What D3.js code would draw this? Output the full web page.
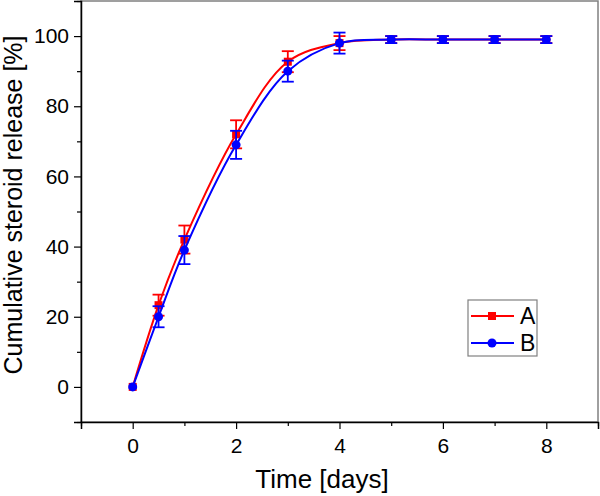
<!DOCTYPE html>
<html><head><meta charset="utf-8">
<script src="https://cdn.jsdelivr.net/npm/d3@7"></script>
<style>body{margin:0;background:#fff}svg{display:block}text{font-family:Arial,"Liberation Sans",sans-serif;fill:#000}</style>
</head><body>
<script>
const times = [0, 0.5, 1, 2, 3, 4, 5, 6, 7, 8];
const seriesA = [0, 23.3, 42, 72, 92.7, 98, 99, 99, 99, 99];
const errA    = [0, 3, 4, 4, 3, 2, 1, 1, 1, 1];
const seriesB = [0, 20, 39, 69, 90, 98, 99, 99, 99, 99];
const errB    = [0, 3, 4, 4, 3, 3, 1, 1, 1, 1];
const xTicks = [0, 2, 4, 6, 8];
const xMinor = [-1, 1, 3, 5, 7, 9];
const yTicks = [0, 20, 40, 60, 80, 100];
const yMinor = [-10, 10, 30, 50, 70, 90, 110];
const legendLabels = ["A", "B"];

const W = 600, H = 496;
const svg = d3.select("body").append("svg").attr("width", W).attr("height", H);
const x = d3.scaleLinear().domain([-1, 9]).range([81, 598]);
const y = d3.scaleLinear().domain([-10, 110]).range([422, 1]);

// frame
svg.append("rect").attr("x", 81).attr("y", 1).attr("width", 517).attr("height", 421)
  .attr("fill", "none").attr("stroke", "#808080").attr("stroke-width", 1.5);

// axes
svg.append("g").attr("transform", "translate(0,422)")
  .call(d3.axisBottom(x).tickValues(xTicks).tickSize(7).tickPadding(9).tickFormat(d3.format("d")));
svg.append("g").attr("transform", "translate(0,422)")
  .call(d3.axisBottom(x).tickValues(xMinor).tickSize(4).tickFormat(""))
  .call(g => g.select(".domain").remove());
svg.append("g").attr("transform", "translate(81,0)")
  .call(d3.axisLeft(y).tickValues(yTicks).tickSize(7).tickPadding(5).tickFormat(d3.format("d")));
svg.append("g").attr("transform", "translate(81,0)")
  .call(d3.axisLeft(y).tickValues(yMinor).tickSize(4).tickFormat(""))
  .call(g => g.select(".domain").remove());
svg.selectAll(".domain").attr("stroke", "#000").attr("stroke-width", 1.5);
svg.selectAll(".tick line").attr("stroke", "#000").attr("stroke-width", 1.2);
svg.selectAll(".tick text").style("font-size", "21px").attr("font-family", "Arial, 'Liberation Sans', sans-serif");

// titles
svg.append("text").attr("x", 322).attr("y", 488).attr("text-anchor", "middle")
  .style("font-size", "26px").text("Time [days]");
svg.append("text").attr("transform", "translate(22,205) rotate(-90)").attr("text-anchor", "middle")
  .style("font-size", "25px").text("Cumulative steroid release [%]");

function drawSeries(vals, errs, color, shape) {
  const data = times.map((t, i) => ({t, v: vals[i], e: errs[i]}));
  const line = d3.line().x(d => x(d.t)).y(d => y(d.v)).curve(d3.curveCatmullRom.alpha(0.5));
  svg.append("path").datum(data).attr("d", line).attr("fill", "none")
    .attr("stroke", color).attr("stroke-width", 2);
  const g = svg.append("g").attr("stroke", color).attr("stroke-width", 1.8);
  data.filter(d => d.e > 0).forEach(d => {
    const cx = x(d.t);
    g.append("line").attr("x1", cx).attr("x2", cx).attr("y1", y(d.v - d.e)).attr("y2", y(d.v + d.e));
    g.append("line").attr("x1", cx - 6).attr("x2", cx + 6).attr("y1", y(d.v + d.e)).attr("y2", y(d.v + d.e));
    g.append("line").attr("x1", cx - 6).attr("x2", cx + 6).attr("y1", y(d.v - d.e)).attr("y2", y(d.v - d.e));
  });
  data.forEach(d => {
    if (shape === "square") {
      svg.append("rect").attr("x", x(d.t) - 4).attr("y", y(d.v) - 4).attr("width", 8).attr("height", 8).attr("fill", color);
    } else {
      svg.append("circle").attr("cx", x(d.t)).attr("cy", y(d.v)).attr("r", 4.5).attr("fill", color);
    }
  });
}
drawSeries(seriesA, errA, "#ff0000", "square");
drawSeries(seriesB, errB, "#0000ff", "circle");

// legend
const lg = svg.append("g");
lg.append("rect").attr("x", 468).attr("y", 300).attr("width", 69).attr("height", 56)
  .attr("fill", "#fff").attr("stroke", "#808080").attr("stroke-width", 1.2);
const lcol = ["#ff0000", "#0000ff"];
legendLabels.forEach((lab, i) => {
  const ly = 316 + i * 27;
  lg.append("line").attr("x1", 471).attr("x2", 514).attr("y1", ly).attr("y2", ly).attr("stroke", lcol[i]).attr("stroke-width", 2);
  if (i === 0) lg.append("rect").attr("x", 488).attr("y", ly - 4).attr("width", 8).attr("height", 8).attr("fill", lcol[i]);
  else lg.append("circle").attr("cx", 492).attr("cy", ly).attr("r", 4.5).attr("fill", lcol[i]);
  lg.append("text").attr("x", 520).attr("y", ly + 8).style("font-size", "23px").text(lab);
});
</script>
</body></html>
